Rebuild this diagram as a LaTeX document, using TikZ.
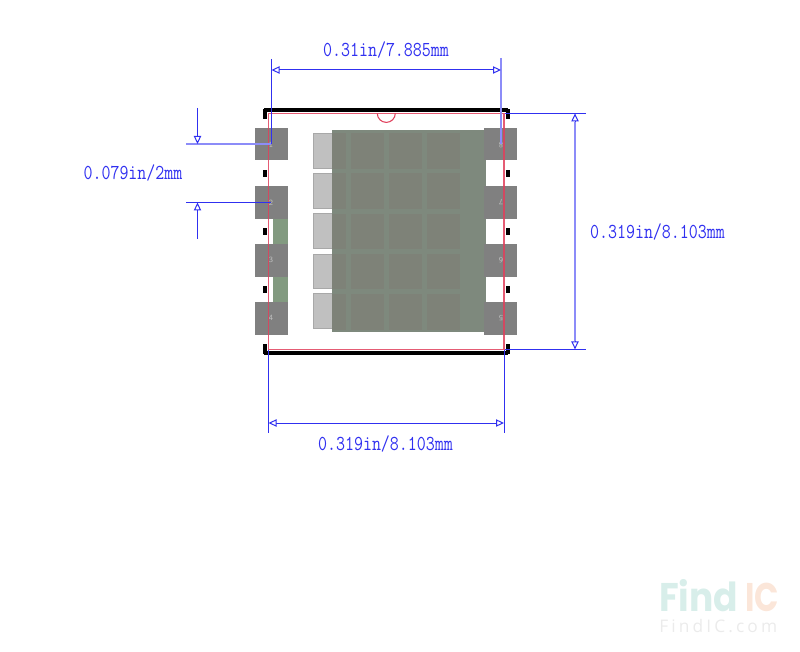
\documentclass[tikz,border=0pt]{standalone}
\usepackage{fontspec}
\usetikzlibrary{arrows.meta}
\newfontfamily\logofont{Poppins Bold}
\newfontfamily\logosmall[LetterSpace=18]{Open Sans}
\definecolor{dimblue}{HTML}{3030F0}
\definecolor{dimpale}{HTML}{8C8CF8}
\definecolor{outlinered}{HTML}{E0405C}
\definecolor{padgray}{HTML}{808080}
\definecolor{basegreen}{HTML}{7E897D}
\definecolor{cellgray}{HTML}{7E8278}
\definecolor{tabgray}{HTML}{C0C0C0}
\definecolor{tabedge}{HTML}{A8A8A8}
\definecolor{stripgreen}{HTML}{829A80}
\newcommand{\tallmono}[1]{\scalebox{1}[1.22]{#1}}
\tikzset{
  x=0.75pt,y=-0.75pt,
  padbox/.style={fill=padgray,draw=none},
  tabbox/.style={fill=tabgray,draw=tabedge,line width=0.75pt},
  cellbox/.style={fill=cellgray,draw=none},
  silk/.style={fill=black,draw=none},
  redline/.style={draw=outlinered,line width=0.8pt},
  extline/.style={draw=dimblue,line width=0.75pt},
  extpale/.style={draw=dimpale,line width=1.2pt},
  dimline/.style={draw=dimblue,line width=0.75pt,
    {Triangle[open,length=6pt,width=5.5pt]}-{Triangle[open,length=6pt,width=5.5pt]}},
  dimpaleline/.style={draw=dimpale,line width=1.2pt},
  dimtip/.style={draw=dimblue,line width=0.75pt,-{Triangle[open,length=6pt,width=5.5pt]}},
  dimtext/.style={text=dimblue,font=\fontsize{13.1pt}{14pt}\ttfamily,inner sep=0pt},
  pinlabel/.style={text=tabgray,font=\fontsize{6pt}{7pt}\sffamily,inner sep=0pt}
}
\begin{document}
\begin{tikzpicture}
\useasboundingbox (0,0) rectangle (800,652);
% green strips and body
\fill[stripgreen] (273.3,215) rectangle (288,305);
\foreach \ya/\yb in {133.5/168.5,173.8/208.5,214/248.8,254.3/288.7,294/329}
  \draw[tabbox] (313,\ya) rectangle (334,\yb);
\fill[basegreen] (332,130) rectangle (485.5,332.5);
\foreach \ya/\yb in {132.7/168.7,173.3/209,214.3/249,254.3/289,294/330}
  \foreach \xa/\xb in {332/346,350.7/384,389/422,427/460}
    \fill[cellbox] (\xa,\ya) rectangle (\xb,\yb);
% pads
\foreach \ya/\yb in {127.7/160.5,186/218.8,244/276.8,302.3/335}
  \fill[padbox] (254.7,\ya) rectangle (288,\yb);
\foreach \ya/\yb in {127.7/160.5,186/218.8,244/276.8,302.3/335}
  \fill[padbox] (484.3,\ya) rectangle (517.3,\yb);
% silk
\fill[silk] (264,108.5) rectangle (508,112.5);
\fill[silk] (264,351) rectangle (508,355);
\fill[silk] (262.5,109) rectangle (267,119);
\fill[silk] (505.7,109) rectangle (510,119);
\fill[silk] (262.5,344.5) rectangle (267,354);
\fill[silk] (505.7,344.5) rectangle (510,354);
\foreach \ya in {169.7,228,286}{
  \fill[silk] (262.5,\ya) rectangle (267,\ya+7);
  \fill[silk] (505.7,\ya) rectangle (510,\ya+7);
}
% pin labels
\node[pinlabel] (p1) at (271,145) {1};
\node[pinlabel] (p2) at (271,202.5) {2};
\node[pinlabel] (p3) at (271,260) {3};
\node[pinlabel] (p4) at (271,318) {4};
\node[pinlabel,rotate=180] (p8) at (501,145) {8};
\node[pinlabel,rotate=180] (p7) at (501,202.5) {7};
\node[pinlabel,rotate=180] (p6) at (501,260) {6};
\node[pinlabel,rotate=180] (p5) at (501,318) {5};
% outline
\draw[redline,draw opacity=0.85] (268.5,349.4) -- (268.5,113.4) -- (504,113.4) -- (504,349.4) -- cycle;
\draw[redline] (377.3,113.4) arc[start angle=180,end angle=0,radius=9];
% top dimension
\coordinate (ta) at (271.5,59);
\coordinate (tb) at (271.5,144);
\coordinate (tc) at (501,58);
\coordinate (td) at (501,144);
\coordinate (te) at (271.5,70);
\coordinate (tf) at (501,70);
\draw[extline] (ta) -- (tb);
\draw[extpale] (tc) -- (td);
\draw[dimline] (te) -- (tf);
\node[dimtext] (toplabel) at (386,49.5) {\tallmono{0.31in/7.885mm}};
% bottom dimension
\coordinate (ba) at (268.5,350);
\coordinate (bb) at (268.5,433);
\coordinate (bc) at (504,350);
\coordinate (bd) at (504,433);
\coordinate (be) at (268.5,423);
\coordinate (bf) at (504,423);
\draw[extline] (ba) -- (bb);
\draw[extline] (bc) -- (bd);
\draw[dimline] (be) -- (bf);
\node[dimtext] (bottomlabel) at (385.5,444) {\tallmono{0.319in/8.103mm}};
% right dimension
\coordinate (ra) at (505,113.4);
\coordinate (rb) at (586,113.4);
\coordinate (rc) at (505,349.4);
\coordinate (rd) at (586,349.4);
\coordinate (re) at (575,113.4);
\coordinate (rf) at (575,349.4);
\draw[extline] (ra) -- (rb);
\draw[extline] (rc) -- (rd);
\draw[dimpaleline] (575,122) -- (575,341);
\draw[dimtip] (575,122) -- (re);
\draw[dimtip] (575,341) -- (rf);
\node[dimtext] (rightlabel) at (657.5,232) {\tallmono{0.319in/8.103mm}};
% left dimension
\coordinate (la) at (186,144);
\coordinate (lb) at (271,144);
\coordinate (lc) at (186,202.5);
\coordinate (ld) at (271,202.5);
\coordinate (le) at (197.5,108);
\coordinate (lf) at (197.5,144);
\coordinate (lg) at (197.5,239);
\coordinate (lh) at (197.5,202.5);
\draw[extpale] (la) -- (lb);
\draw[extline] (lc) -- (ld);
\draw[dimtip] (le) -- (lf);
\draw[dimtip] (lg) -- (lh);
\node[dimtext] (leftlabel) at (133,173) {\tallmono{0.079in/2mm}};
% watermark
\node[inner sep=0pt,anchor=base west,font=\fontsize{30pt}{31pt}\logofont,text={rgb,255:red,216;green,238;blue,234}] (wm1) at (659,611) {\scalebox{0.9}[1]{Find}};
\node[inner sep=0pt,anchor=base west,font=\fontsize{30pt}{31pt}\logofont,text={rgb,255:red,251;green,230;blue,217}] (wm3) at (745,611) {\scalebox{0.8}[1]{IC}};
\node[inner sep=0pt,anchor=base west,font=\fontsize{13pt}{14pt}\logosmall,text=black!8] (wm2) at (659,632) {FindIC.com};
\end{tikzpicture}
\end{document}
